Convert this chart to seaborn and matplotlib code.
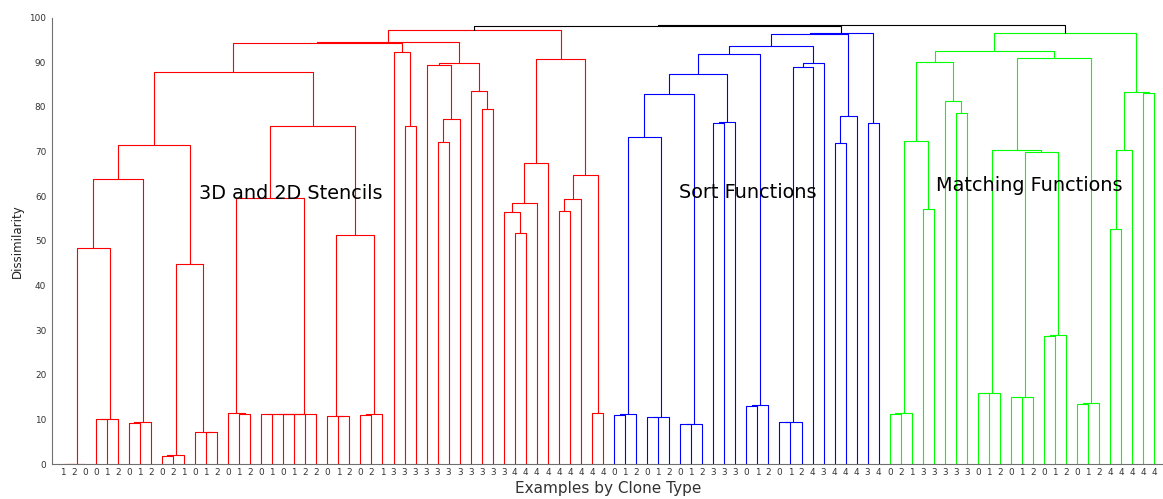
import matplotlib
matplotlib.use("Agg")
import matplotlib.pyplot as plt
import pandas as pd
import seaborn as sns

# Clone type of every leaf, in dendrogram (left-to-right) order
clone_types = [1, 2, 0, 0, 1, 2, 0, 1, 2, 0, 2, 1, 0, 1, 2, 0, 1, 2, 0, 1,
               0, 1, 2, 2, 0, 1, 2, 0, 2, 1,
               3, 3, 3, 3, 3, 3, 3, 3, 3, 3, 3,
               4, 4, 4, 4, 4, 4, 4, 4, 4,
               0, 1, 2, 0, 1, 2, 0, 1, 2, 3, 3, 3, 0, 1, 2, 0, 1, 2,
               4, 3, 4, 4, 4, 3, 4,
               0, 2, 1, 3, 3, 3, 3, 3, 0, 1, 2, 0, 1, 2, 0, 1, 2, 0, 1, 2,
               4, 4, 4, 4, 4]

# Merge trees: (left, right, dissimilarity); integers are leaf positions.
# 3D and 2D stencils
sten_low = ((((0, 1, 0.0), 2, 0.0), ((3, 4, 10.0), 5, 10.1), 48.4),
            ((6, 7, 9.2), 8, 9.3), 63.8)
sten_mid = (((9, 10, 1.9), 11, 1.95), (12, (13, 14, 7.1), 7.2), 44.8)
sten_c = ((15, (16, 17, 11.3), 11.35),
          ((((18, 19, 11.2), (20, 21, 11.2), 11.25), 22, 11.3), 23, 11.3), 59.5)
sten_d = ((24, (25, 26, 10.7), 10.8), ((27, 28, 11.0), 29, 11.1), 51.2)
sten_2d = ((sten_low, sten_mid, 71.5), (sten_c, sten_d, 75.6), 87.7)
type3_a = (30, (31, 32, 75.6), 92.2)
type3_b = ((33, ((34, 35, 72.2), 36, 77.2), 89.3),
           (37, (38, 39, 79.5), 83.6), 89.8)
type4 = ((((40, (41, 42, 51.7), 56.5), 43, 58.4), 44, 67.4),
         (((45, 46, 56.6), 47, 59.4), (48, 49, 11.35), 64.8), 90.7)
stencils = (((sten_2d, type3_a, 94.4), type3_b, 94.6), type4, 97.1)

# Sort functions
sort_a = ((((50, 51, 11.0), 52, 11.1), ((53, 54, 10.5), 55, 10.6), 73.3),
          ((56, 57, 8.9), 58, 8.96), 82.9)
sort_b = ((sort_a, ((59, 60, 76.4), 61, 76.6), 87.4),
          ((62, 63, 13.1), 64, 13.2), 91.9)
sort_c = ((((65, 66, 9.3), 67, 9.35), 68, 88.9), 69, 89.8)
sorts = (((sort_b, sort_c, 93.7), ((70, 71, 72.0), 72, 78.0), 96.3),
         (73, 74, 76.3), 96.5)

# Matching functions
match_a = ((((75, 76, 11.2), 77, 11.35), (78, 79, 57.1), 72.4),
           (80, (81, 82, 78.7), 81.4), 90.0)
match_b = ((((83, 84, 15.9), 85, 16.0),
            (((86, 87, 15.0), 88, 15.1), ((89, 90, 28.7), 91, 28.8), 69.8), 70.3),
           ((92, 93, 13.5), 94, 13.6), 90.9)
match_c = (((95, 96, 52.7), 97, 70.3), (98, 99, 83.1), 83.3)
matching = ((match_a, match_b, 92.6), match_c, 96.5)

# Links joining the three families
top_heights = [98.15, 98.3]

group_colors = {"stencils": "#ff0000", "sort": "#0000ff",
                "matching": "#00ff00", "top": "#000000"}

cluster_labels = ["3D and 2D Stencils", "Sort Functions", "Matching Functions"]
cluster_label_pos = [(13.4, 60.6), (56.9, 60.9), (80.2, 62.4)]


def collect(node, group, rows):
    """Return (x, height) of a node and append its U-shaped link."""
    if isinstance(node, int):
        return node + 1, 0.0
    left, right, h = node
    xl, hl = collect(left, group, rows)
    xr, hr = collect(right, group, rows)
    link = len(rows) // 4
    for x, y in ((xl, hl), (xl, h), (xr, h), (xr, hr)):
        rows.append({"link": link, "group": group, "x": x, "y": y})
    return (xl + xr) / 2, h


rows = []
xs, hs = collect(stencils, "stencils", rows)
xb, hb = collect(sorts, "sort", rows)
xm, hm = collect(matching, "matching", rows)
link = len(rows) // 4
xsb = (xs + xb) / 2
for x, y in ((xs, hs), (xs, top_heights[0]), (xb, top_heights[0]), (xb, hb)):
    rows.append({"link": link, "group": "top", "x": x, "y": y})
link += 1
for x, y in ((xsb, top_heights[0]), (xsb, top_heights[1]), (xm, top_heights[1]), (xm, hm)):
    rows.append({"link": link, "group": "top", "x": x, "y": y})
links = pd.DataFrame(rows)

sns.set_style("white")
plt.rcParams["font.family"] = ["DejaVu Sans"]

fig = plt.figure(figsize=(11.63, 4.99), dpi=100)
ax = fig.add_axes([0.04445, 0.0701, 0.9576, 0.8948])

sns.lineplot(data=links, x="x", y="y", hue="group", units="link",
             estimator=None, sort=False, palette=group_colors,
             legend=False, linewidth=0.8, ax=ax)

for text, (tx, ty) in zip(cluster_labels, cluster_label_pos):
    ax.text(tx, ty, text, ha="left", va="center", fontsize=13.9, color="black")

n = len(clone_types)
ax.set_xlim(0, n + 1)
ax.set_ylim(0, 100)
ax.set_xticks(range(1, n + 1))
ax.set_xticklabels([str(c) for c in clone_types])
ax.set_yticks(range(0, 101, 10))

axis_gray = "#707070"
for side in ("top", "right"):
    ax.spines[side].set_visible(False)
for side in ("left", "bottom"):
    ax.spines[side].set_color(axis_gray)
    ax.spines[side].set_linewidth(0.8)

ax.tick_params(axis="x", direction="in", length=5.5, width=0.6, color=axis_gray,
               labelsize=6.4, labelcolor="#333333", pad=3)
ax.tick_params(axis="y", direction="in", length=7, width=0.6, color=axis_gray,
               labelsize=6.4, labelcolor="#333333", pad=4)

ax.set_xlabel("Examples by Clone Type", fontsize=11, color="#333333", labelpad=3)
ax.set_ylabel("Dissimilarity", fontsize=8.5, color="#222222", labelpad=4)

fig.savefig("out.png", dpi=100)
